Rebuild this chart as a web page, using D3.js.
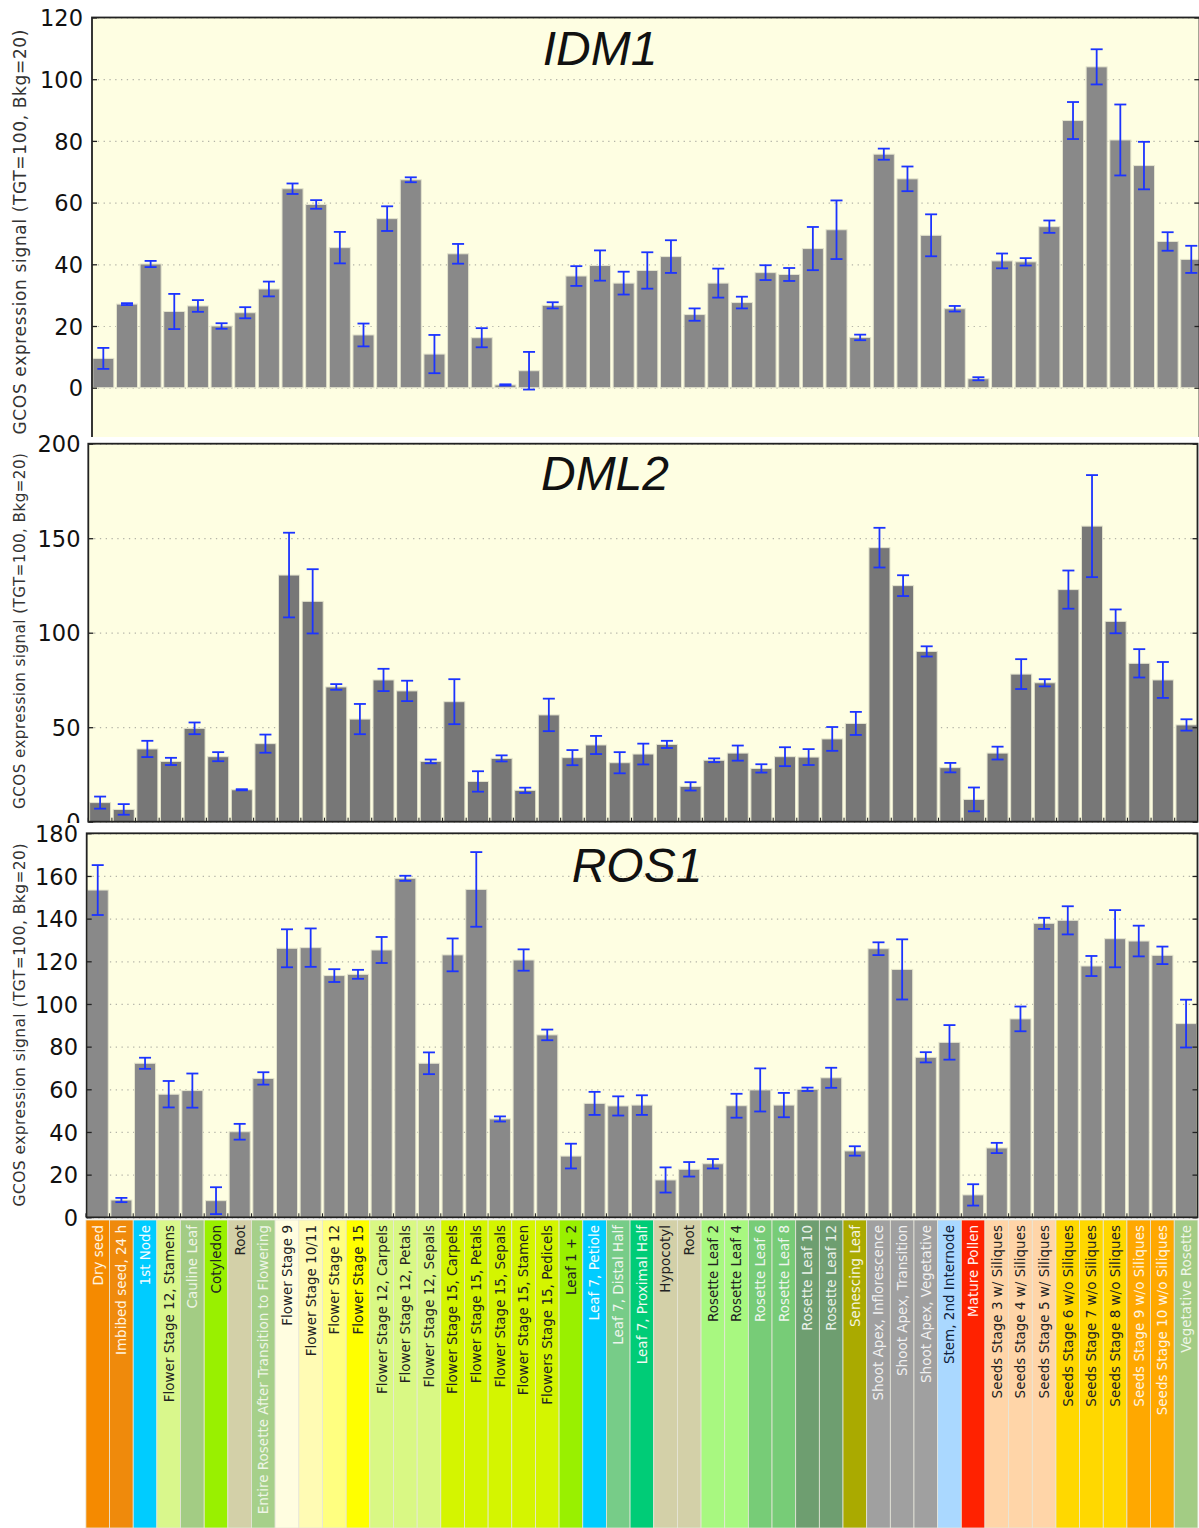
<!DOCTYPE html>
<html>
<head>
<meta charset="utf-8">
<script src="https://cdn.jsdelivr.net/npm/d3@7/dist/d3.min.js"></script>
<style>
  body { margin: 0; background: #fff; }
  .tick text { font-family: "DejaVu Sans", sans-serif; fill: #111; }
</style>
</head>
<body>
<div id="viz"></div>
<script>
// tissue categories (AtGenExpress developmental set)
var categories = ["Dry seed", "Imbibed seed, 24 h", "1st Node", "Flower Stage 12, Stamens", "Cauline Leaf",
    "Cotyledon", "Root", "Entire Rosette After Transition to Flowering", "Flower Stage 9", "Flower Stage 10/11",
    "Flower Stage 12", "Flower Stage 15", "Flower Stage 12, Carpels", "Flower Stage 12, Petals", "Flower Stage 12, Sepals",
    "Flower Stage 15, Carpels", "Flower Stage 15, Petals", "Flower Stage 15, Sepals", "Flower Stage 15, Stamen",
    "Flowers Stage 15, Pedicels", "Leaf 1 + 2", "Leaf 7, Petiole", "Leaf 7, Distal Half", "Leaf 7, Proximal Half",
    "Hypocotyl", "Root", "Rosette Leaf 2", "Rosette Leaf 4", "Rosette Leaf 6", "Rosette Leaf 8", "Rosette Leaf 10",
    "Rosette Leaf 12", "Senescing Leaf", "Shoot Apex, Inflorescence", "Shoot Apex, Transition", "Shoot Apex, Vegetative",
    "Stem, 2nd Internode", "Mature Pollen", "Seeds Stage 3 w/ Siliques", "Seeds Stage 4 w/ Siliques",
    "Seeds Stage 5 w/ Siliques", "Seeds Stage 6 w/o Siliques", "Seeds Stage 7 w/o Siliques", "Seeds Stage 8 w/o Siliques",
    "Seeds Stage 9 w/o Siliques", "Seeds Stage 10 w/o Siliques", "Vegetative Rosette"];

var bandColors = ["#f58a00", "#ef8a0c", "#00ccff", "#d9f78c", "#a3cc84", "#99f000", "#d3d0a8", "#a6d08a",
    "#fffde0", "#fffbb4", "#ffff80", "#ffff00", "#d9f884", "#d9f884", "#d9f884", "#d4f500", "#d4f500", "#d4f500",
    "#d4f500", "#d4f500", "#99f000", "#00ccff", "#77cc88", "#00cc77", "#d3d0a8", "#d3d0a8", "#a8f880", "#a8f880",
    "#77cc77", "#77cc77", "#6e9e70", "#6e9e70", "#aaaa00", "#a0a0a0", "#a0a0a0", "#a0a0a0", "#aad8ff", "#ff2200",
    "#ffd5a8", "#ffd5a8", "#ffd5a8", "#ffd800", "#ffd800", "#ffd800", "#ffa800", "#ffa800", "#a3cc84"];

var labelColors = ["#fff4e0", "#fff4e0", "#f4fcff", "#222", "#eef5e6", "#222", "#222", "#eef5e6", "#222", "#222",
    "#222", "#222", "#222", "#222", "#222", "#222", "#222", "#222", "#222", "#222", "#222", "#f4fcff", "#eef5ee",
    "#eefaf2", "#222", "#222", "#222", "#222", "#eef5ee", "#eef5ee", "#e8f0e8", "#e8f0e8", "#f5f5e0", "#f0f0f0",
    "#f0f0f0", "#f0f0f0", "#10203a", "#fff0ee", "#222", "#222", "#222", "#222", "#222", "#222", "#fff4e0", "#fff4e0",
    "#eef5e6"];

var idm1Values = [9.5, 27.1, 40.1, 24.7, 26.5, 20.0, 24.3, 32.0, 64.5, 59.4, 45.4, 17.1, 54.8, 67.4, 10.9, 43.4,
    16.2, 0.9, 5.5, 26.7, 36.2, 39.6, 33.9, 38.0, 42.5, 23.7, 33.9, 27.6, 37.3, 36.7, 45.1, 51.2, 16.3, 75.7, 67.7,
    49.4, 25.6, 2.9, 41.1, 40.8, 52.2, 86.6, 104.0, 80.3, 72.0, 47.4, 41.6];
var idm1Errors = [3.4, 0.3, 1.0, 5.7, 1.9, 0.9, 1.8, 2.4, 1.7, 1.4, 5.1, 3.7, 4.0, 0.8, 6.2, 3.2, 3.1, 0.2, 6.1,
    1.0, 3.2, 4.9, 3.7, 5.9, 5.3, 2.0, 4.7, 1.9, 2.4, 2.1, 7.0, 9.5, 0.9, 1.8, 4.0, 6.8, 0.9, 0.5, 2.4, 1.2, 2.0, 6.0,
    5.7, 11.5, 7.7, 3.0, 4.4];

var dml2Values = [10.1, 6.5, 38.5, 31.9, 49.4, 34.4, 16.9, 41.3, 130.5, 116.6, 71.3, 54.3, 75.0, 69.2, 31.9, 63.5,
    21.3, 33.5, 16.6, 56.5, 33.9, 40.6, 31.2, 35.8, 40.9, 18.7, 32.5, 36.3, 28.2, 34.4, 34.2, 43.8, 52.0, 145.0,
    124.9, 90.1, 28.6, 11.8, 36.3, 78.1, 73.5, 122.8, 156.4, 106.0, 83.8, 75.0, 51.2];
var dml2Errors = [3.2, 2.8, 4.3, 1.9, 3.1, 2.4, 0.3, 4.8, 22.4, 17.0, 1.5, 8.0, 5.9, 5.4, 1.0, 11.9, 5.4, 1.6, 1.4,
    8.6, 4.0, 4.8, 5.6, 5.5, 1.9, 2.2, 1.0, 4.0, 2.2, 5.0, 4.2, 6.3, 6.1, 10.5, 5.5, 2.7, 2.5, 6.3, 3.4, 7.9, 1.9,
    10.1, 27.0, 6.3, 7.5, 9.5, 3.0];

var ros1Values = [153.4, 8.1, 72.2, 57.7, 59.4, 7.8, 40.1, 65.1, 126.1, 126.4, 113.3, 113.9, 125.3, 158.9, 72.2,
    123.0, 153.7, 46.1, 120.6, 85.5, 28.7, 53.4, 52.2, 52.6, 17.5, 22.5, 25.1, 52.3, 59.7, 52.6, 60.0, 65.4, 31.1,
    125.9, 116.2, 75.0, 82.0, 10.5, 32.5, 93.0, 137.8, 139.2, 117.8, 130.6, 129.5, 122.8, 90.8];
var ros1Errors = [11.7, 1.0, 2.6, 6.2, 8.0, 6.3, 3.7, 2.9, 8.9, 9.0, 3.0, 2.1, 6.1, 1.2, 5.1, 7.7, 17.5, 1.2, 5.0,
    2.5, 5.8, 5.4, 4.5, 4.6, 5.9, 3.4, 2.2, 5.6, 10.1, 5.7, 0.8, 4.7, 2.2, 3.0, 14.1, 2.4, 8.1, 5.0, 2.4, 5.8, 2.6,
    6.6, 4.7, 13.4, 7.2, 4.1, 11.2];

var idm1Ticks = [0, 20, 40, 60, 80, 100, 120];
var dml2Ticks = [0, 50, 100, 150, 200];
var ros1Ticks = [0, 20, 40, 60, 80, 100, 120, 140, 160, 180];

var yLabel = "GCOS expression signal (TGT=100, Bkg=20)";

var width = 1199, height = 1528;

var svg = d3.select("#viz").append("svg")
    .attr("width", width)
    .attr("height", height);

// each panel is a cropped image stacked on the next one
var panels = [
    {name: "IDM1", values: idm1Values, errors: idm1Errors, ticks: idm1Ticks, domain: [0, 120],
     yRange: [387.7, 17.5], frameLeft: 92, frameRight: 1199.5, frameBottom: 460, barRange: [92.8, 1201.8],
     clip: [0, 437], fill: "#898989", titleX: 600, titleY: 65, labelRight: 83, labelSize: 17, labelLen: 405,
     labelY: 232, xTicks: false},
    {name: "DML2", values: dml2Values, errors: dml2Errors, ticks: dml2Ticks, domain: [0, 200],
     yRange: [821.7, 443.7], frameLeft: 88.3, frameRight: 1197.5, frameBottom: 821.7, barRange: [89.6, 1197],
     clip: [433, 823], fill: "#777777", titleX: 605, titleY: 490, labelRight: 80.5, labelSize: 15.2, labelLen: 356,
     labelY: 631, xTicks: true},
    {name: "ROS1", values: ros1Values, errors: ros1Errors, ticks: ros1Ticks, domain: [0, 180],
     yRange: [1217.3, 833.3], frameLeft: 86.7, frameRight: 1197.5, frameBottom: 1217.3, barRange: [87.2, 1196.6],
     clip: [823, 1528], fill: "#898989", titleX: 637, titleY: 882, labelRight: 78, labelSize: 15.5, labelLen: 363,
     labelY: 1025, xTicks: true}
];

var defs = svg.append("defs");

panels.forEach(function(p, k) {
    defs.append("clipPath").attr("id", "clip" + k)
        .append("rect")
        .attr("x", 0).attr("y", p.clip[0])
        .attr("width", width).attr("height", p.clip[1] - p.clip[0]);

    var g = svg.append("g").attr("clip-path", "url(#clip" + k + ")");

    var x = d3.scaleBand()
        .domain(d3.range(categories.length))
        .range(p.barRange)
        .paddingInner(0.11)
        .paddingOuter(0);
    var y = d3.scaleLinear()
        .domain(p.domain)
        .range(p.yRange);

    // background
    g.append("rect")
        .attr("x", p.frameLeft).attr("y", y(p.domain[1]))
        .attr("width", p.frameRight - p.frameLeft)
        .attr("height", p.frameBottom - y(p.domain[1]))
        .attr("fill", "#fefee2");

    // dotted grid
    var grid = g.append("g")
        .attr("transform", "translate(" + p.frameLeft + ",0)")
        .call(d3.axisRight(y).tickValues(p.ticks).tickSize(p.frameRight - p.frameLeft).tickFormat(""));
    grid.select(".domain").remove();
    grid.selectAll("line")
        .attr("stroke", "#b4b4a8")
        .attr("stroke-width", 1.2)
        .attr("stroke-dasharray", "1.3,4.5");

    g.append("text")
        .attr("x", p.titleX).attr("y", p.titleY)
        .attr("text-anchor", "middle")
        .attr("font-family", "Liberation Sans, Arial, sans-serif")
        .attr("font-style", "italic")
        .attr("font-size", 48)
        .attr("fill", "#111")
        .text(p.name);

    // bars
    g.selectAll("rect.bar")
        .data(p.values)
        .enter().append("rect")
        .attr("class", "bar")
        .attr("x", function(d, i) { return x(i); })
        .attr("y", function(d) { return y(d); })
        .attr("width", x.bandwidth())
        .attr("height", function(d) { return y(0) - y(d); })
        .attr("fill", p.fill)
        .attr("stroke", "#e4e4cc")
        .attr("stroke-width", 1);

    // error bars
    var eb = g.selectAll("g.err")
        .data(p.values)
        .enter().append("g")
        .attr("class", "err")
        .attr("stroke", "#1c34ff")
        .attr("stroke-width", 1.8);
    eb.append("line")
        .attr("x1", function(d, i) { return x(i) + x.bandwidth() / 2; })
        .attr("x2", function(d, i) { return x(i) + x.bandwidth() / 2; })
        .attr("y1", function(d, i) { return y(d - p.errors[i]); })
        .attr("y2", function(d, i) { return y(d + p.errors[i]); });
    [-1, 1].forEach(function(s) {
        eb.append("line")
            .attr("x1", function(d, i) { return x(i) + x.bandwidth() / 2 - 6; })
            .attr("x2", function(d, i) { return x(i) + x.bandwidth() / 2 + 6; })
            .attr("y1", function(d, i) { return y(d + s * p.errors[i]); })
            .attr("y2", function(d, i) { return y(d + s * p.errors[i]); });
    });

    // left axis with inward ticks
    var yAxis = g.append("g")
        .attr("transform", "translate(" + p.frameLeft + ",0)")
        .call(d3.axisLeft(y).tickValues(p.ticks).tickSizeInner(-5).tickSizeOuter(0)
            .tickPadding(p.frameLeft - p.labelRight));
    yAxis.select(".domain").remove();
    yAxis.selectAll("line").attr("stroke", "#222").attr("stroke-width", 1.3);
    yAxis.selectAll("text").attr("font-size", 22.5).attr("dy", "0.36em");

    var yRight = g.append("g")
        .attr("transform", "translate(" + p.frameRight + ",0)")
        .call(d3.axisRight(y).tickValues(p.ticks).tickSizeInner(-5).tickSizeOuter(0).tickFormat(""));
    yRight.select(".domain").remove();
    yRight.selectAll("line").attr("stroke", "#222").attr("stroke-width", 1.3);

    if (p.xTicks) {
        g.selectAll("line.xt")
            .data(categories)
            .enter().append("line")
            .attr("class", "xt")
            .attr("x1", function(d, i) { return x(i) - x.step() * 0.055; })
            .attr("x2", function(d, i) { return x(i) - x.step() * 0.055; })
            .attr("y1", p.frameBottom)
            .attr("y2", p.frameBottom - 4)
            .attr("stroke", "#222");
    }

    // frame
    g.append("rect")
        .attr("x", p.frameLeft).attr("y", y(p.domain[1]))
        .attr("width", p.frameRight - p.frameLeft)
        .attr("height", p.frameBottom - y(p.domain[1]))
        .attr("fill", "none")
        .attr("stroke", "#222")
        .attr("stroke-width", 1.8);

    g.append("text")
        .attr("transform", "translate(20," + p.labelY + ") rotate(-90)")
        .attr("text-anchor", "middle")
        .attr("dy", "0.35em")
        .attr("font-family", "DejaVu Sans, sans-serif")
        .attr("font-size", p.labelSize)
        .attr("textLength", p.labelLen)
        .attr("lengthAdjust", "spacing")
        .attr("fill", "#333")
        .text(yLabel);

    p.x = x;
});

// coloured tissue strip under the last panel
var xs = panels[2].x;
var half = (xs.step() - xs.bandwidth()) / 2;
var strip = svg.append("g");
strip.selectAll("rect")
    .data(categories)
    .enter().append("rect")
    .attr("x", function(d, i) { return xs(i) - half; })
    .attr("y", 1220)
    .attr("width", xs.step())
    .attr("height", height - 1220)
    .attr("fill", function(d, i) { return bandColors[i]; })
    .attr("stroke", "#e6e6da")
    .attr("stroke-width", 0.8);

strip.selectAll("text")
    .data(categories)
    .enter().append("text")
    .attr("transform", function(d, i) {
        return "translate(" + (xs(i) + xs.bandwidth() / 2) + ",1225) rotate(-90)";
    })
    .attr("text-anchor", "end")
    .attr("dy", "0.36em")
    .attr("font-family", "DejaVu Sans, sans-serif")
    .attr("font-size", 13.5)
    .attr("fill", function(d, i) { return labelColors[i]; })
    .text(function(d) { return d; });
</script>
</body>
</html>
